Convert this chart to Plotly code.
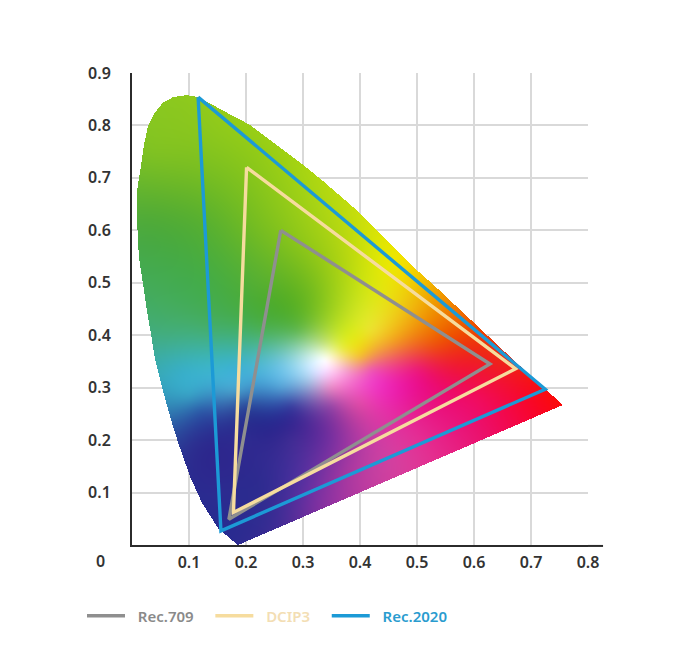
import numpy as np
import plotly.graph_objects as go

x_ticks = [0.1, 0.2, 0.3, 0.4, 0.5, 0.6, 0.7, 0.8]
y_ticks = [0.1, 0.2, 0.3, 0.4, 0.5, 0.6, 0.7, 0.8, 0.9]

locus_x = [.186, .181, .151, .123, .102, .081, .070, .053, .040, .033, .026, .019, .012, .009, .009, .016, .021, .028, .040, .054, .072, .096, .116, .142, .167, .207, .300, .333, .400, .432, .500, .535, .675, .756]
locus_y = [.000, .004, .032, .080, .130, .195, .233, .299, .357, .404, .448, .500, .549, .614, .677, .725, .763, .799, .824, .843, .854, .858, .854, .839, .824, .801, .725, .696, .633, .597, .524, .490, .347, .267]

rec709_x = [.261, .628, .170, .261]
rec709_y = [.600, .345, .049, .600]
dcip3_x = [.201, .673, .178, .201]
dcip3_y = [.720, .336, .062, .720]
rec2020_x = [.116, .725, .156, .116]
rec2020_y = [.854, .297, .027, .854]

# colour samples: x, y, colour
samples = [
    (.09, .84, "#8cc81e"), (.04, .75, "#80c222"), (.15, .78, "#8cc81c"), (.22, .74, "#90ca18"), (.32, .66, "#a8d414"),
    (.40, .60, "#c8de0c"), (.46, .54, "#eee600"), (.52, .49, "#f0b000"),
    (.03, .62, "#50ab38"), (.12, .62, "#58b030"), (.22, .60, "#74bc22"), (.30, .58, "#90c818"), (.38, .54, "#b8d810"),
    (.44, .48, "#e4e410"), (.49, .44, "#f0b010"),
    (.04, .50, "#44ab55"), (.13, .50, "#44ac48"), (.23, .50, "#58b030"), (.31, .48, "#70ba20"), (.38, .44, "#c4e020"),
    (.42, .41, "#ece030"), (.46, .39, "#f2a020"), (.53, .38, "#ee5010"), (.60, .38, "#ee3010"), (.66, .36, "#ee2a10"),
    (.06, .40, "#42ad80"), (.14, .41, "#44ae70"), (.23, .41, "#4cb058"), (.29, .41, "#62b850"),
    (.335, .385, "#c0e080"), (.37, .375, "#e8ea40"), (.40, .36, "#f4c030"),
    (.09, .33, "#38aec8"), (.18, .335, "#3cb0d4"), (.26, .345, "#70c4e0"), (.305, .35, "#c0e6f0"),
    (.339, .353, "#ffffff"), (.375, .335, "#f4a8cc"), (.42, .335, "#ee5ab0"), (.50, .335, "#ec1c78"), (.58, .34, "#f01830"),
    (.10, .285, "#38a0c4"), (.18, .295, "#48a0cc"), (.26, .30, "#54a0d4"), (.31, .315, "#a8c8e8"), (.35, .30, "#e888c4"),
    (.12, .255, "#2c5aa8"), (.20, .265, "#2c4a9c"), (.28, .265, "#3a40a0"), (.35, .265, "#9848a8"), (.40, .27, "#e04aa8"),
    (.50, .27, "#e8188c"), (.60, .28, "#f00c60"), (.70, .29, "#f80a20"), (.75, .27, "#fb0a0a"),
    (.11, .19, "#2c2f90"), (.20, .20, "#2e2b90"), (.28, .20, "#402c94"), (.35, .20, "#7830a0"), (.42, .21, "#c83ca4"),
    (.50, .21, "#e42c94"), (.60, .22, "#ea1270"),
    (.16, .10, "#2c2b90"), (.23, .11, "#2f2b90"), (.30, .12, "#5830a0"), (.38, .14, "#a838a0"), (.45, .16, "#d040a0"),
    (.19, .02, "#2c2b90"), (.25, .04, "#3c2c94"), (.32, .08, "#7830a0"),
]


def hex_rgb(h):
    return [int(h[i:i + 2], 16) for i in (1, 3, 5)]


def inside(px, py, vx, vy):
    res = np.zeros_like(px, dtype=bool)
    n = len(vx)
    for i in range(n):
        j = (i - 1) % n
        cond = (vy[i] > py) != (vy[j] > py)
        with np.errstate(divide="ignore", invalid="ignore"):
            xc = (vx[j] - vx[i]) * (py - vy[i]) / (vy[j] - vy[i]) + vx[i]
        res ^= cond & (px < xc)
    return res


def phi(r2):
    return 0.5 * r2 * np.log(r2 + 1e-12)


# gamut fill: one cell per screen pixel, a smooth surface through the colour samples
dx, dy = 0.8 / 456, 0.9 / 472
xs_c = np.arange(0.0, 0.8, dx) + dx / 2
ys_c = np.arange(0.0, 0.9, dy) + dy / 2
gx, gy = np.meshgrid(xs_c, ys_c)
sx = np.array([s[0] for s in samples])
sy = np.array([s[1] for s in samples])
sc = np.array([hex_rgb(s[2]) for s in samples], dtype=float)
n = len(samples)
K = phi((sx[:, None] - sx) ** 2 + (sy[:, None] - sy) ** 2) + 2e-4 * np.eye(n)
P = np.column_stack([np.ones(n), sx, sy])
A = np.block([[K, P], [P.T, np.zeros((3, 3))]])
coef = np.linalg.solve(A, np.vstack([sc, np.zeros((3, 3))]))
rgb = np.zeros(gx.shape + (3,))
for r in range(gx.shape[0]):
    row_k = phi((gx[r][:, None] - sx) ** 2 + (gy[r][:, None] - sy) ** 2)
    row_p = np.column_stack([np.ones(gx.shape[1]), gx[r], gy[r]])
    rgb[r] = np.hstack([row_k, row_p]) @ coef
rgb = np.clip(rgb, 0, 255)
mask = inside(gx, gy, np.array(locus_x), np.array(locus_y))
rgba = np.dstack([rgb, mask * 255.0]).round().astype(np.uint8)

fig = go.Figure()
fig.add_trace(go.Image(z=rgba, colormodel="rgba256", x0=dx / 2, dx=dx, y0=dy / 2, dy=dy, hoverinfo="skip"))

for name, xs, ys, col, txt in [
    ("Rec.709", rec709_x, rec709_y, "#8f8f8f", "#8a8a8a"),
    ("DCIP3", dcip3_x, dcip3_y, "#f6dc9e", "#f3deb4"),
    ("Rec.2020", rec2020_x, rec2020_y, "#1c9ad6", "#2a9ccf"),
]:
    fig.add_trace(go.Scatter(x=xs, y=ys, mode="lines", line=dict(color=col, width=3.4),
                             name=f'<span style="color:{txt}">\u00a0\u00a0{name}\u00a0\u00a0\u00a0</span>', hoverinfo="skip"))

fig.update_layout(
    width=684, height=640,
    autosize=False,
    margin=dict(l=124, r=104, t=65, b=103, autoexpand=False),
    paper_bgcolor="white", plot_bgcolor="white",
    font=dict(family="Noto Sans", size=16, color="#333333"),
    showlegend=True,
    legend=dict(orientation="h", xref="container", yref="container", x=74 / 684, y=1 - 608 / 640,
                xanchor="left", yanchor="middle",
                font=dict(size=15, weight=600), itemwidth=38, bgcolor="rgba(0,0,0,0)"),
    xaxis=dict(range=[0, 0.8], tickvals=x_ticks, ticktext=[f"{v:.1f}" for v in x_ticks],
               showgrid=True, gridcolor="#d9d9d9", gridwidth=2, zeroline=False, showline=True,
               linecolor="#2b2b2b", linewidth=2, ticks="outside", ticklen=2, tickcolor="rgba(0,0,0,0)",
               tickfont=dict(size=16, weight=600), automargin=False),
    yaxis=dict(range=[0, 0.9], tickvals=y_ticks, ticktext=[f"{v:.1f}" for v in y_ticks],
               showgrid=True, gridcolor="#d9d9d9", gridwidth=2, zeroline=False, showline=True,
               linecolor="#2b2b2b", linewidth=2, ticks="outside", ticklen=16, tickcolor="rgba(0,0,0,0)",
               tickfont=dict(size=16, weight=600), automargin=False, scaleanchor=False),
    shapes=[dict(type="line", xref="paper", yref="paper", x0=1, x1=1.033, y0=-0.002, y1=-0.002,
                 line=dict(color="#2b2b2b", width=2))],
    annotations=[dict(text="0", xref="paper", yref="paper", x=-0.070, y=-0.034, showarrow=False,
                      font=dict(size=16, weight=600), xanchor="center", yanchor="middle")],
)
fig.write_html("out.html")
